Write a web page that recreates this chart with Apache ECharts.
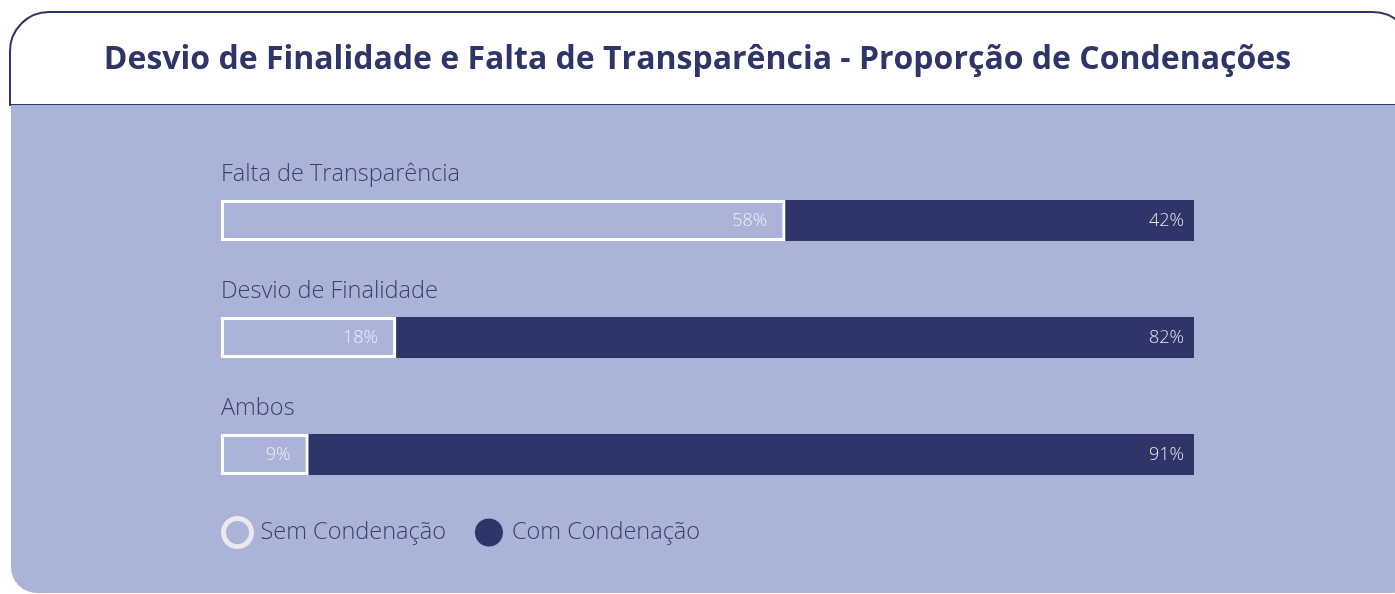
<!DOCTYPE html>
<html>
<head>
<meta charset="utf-8">
<script src="https://cdn.jsdelivr.net/npm/echarts@6/dist/echarts.min.js"></script>
<style>
  html, body { margin: 0; padding: 0; width: 1395px; height: 594px; overflow: hidden; background: #ffffff; }
  .head {
    position: absolute; left: 9px; top: 11px; width: 1400px; height: 91px;
    border: 2px solid #2f3568; border-radius: 40px 40px 0 0; background: #ffffff;
  }
  .panel {
    position: absolute; left: 11px; top: 105px; width: 1386px; height: 488px;
    background: #abb3d9; border-radius: 0 0 4px 26px;
  }
  #chart { position: absolute; left: 0; top: 0; width: 1395px; height: 594px; }
</style>
</head>
<body>
<div class="head"></div>
<div class="panel"></div>
<div id="chart"></div>
<script>
// Share of cases with and without a conviction, per type of irregularity
const categories = ['Falta de Transparência', 'Desvio de Finalidade', 'Ambos'];
const semCondenacao = [58, 18, 9];
const comCondenacao = [42, 82, 91];
const seriesNames = ['Sem Condenação', 'Com Condenação'];

const PANEL = '#abb3d9';
const NAVY = '#2f3568';
const FONT = '"Open Sans", "Noto Sans", sans-serif';

const chart = echarts.init(document.getElementById('chart'), null, { renderer: 'canvas' });

chart.setOption({
  backgroundColor: 'transparent',
  animation: false,
  title: {
    text: 'Desvio de Finalidade e Falta de Transparência - Proporção de Condenações',
    left: 'center',
    top: 39,
    textStyle: { fontFamily: FONT, fontSize: 32, fontWeight: 'bold', color: NAVY }
  },
  legend: {
    left: 221,
    top: 516,
    padding: 0,
    itemWidth: 28,
    itemHeight: 28,
    itemGap: 29,
    icon: 'circle',
    textStyle: { fontFamily: FONT, fontSize: 23.5, fontWeight: 300, color: '#3b4170', padding: [0, 0, 0, 4] },
    data: [
      { name: seriesNames[0], itemStyle: { color: PANEL, borderColor: '#e9e9ef', borderWidth: 5 } },
      { name: seriesNames[1], itemStyle: { color: NAVY, borderWidth: 0 } }
    ]
  },
  grid: { left: 221, right: 201, top: 162, bottom: 81, containLabel: false },
  xAxis: {
    type: 'value', min: 0, max: 100, show: false
  },
  yAxis: {
    type: 'category',
    data: categories,
    inverse: true,
    axisLine: { show: false },
    axisTick: { show: false },
    splitLine: { show: false },
    axisLabel: {
      inside: true,
      margin: 0,
      verticalAlign: 'bottom',
      padding: [0, 0, 34, 0],
      fontFamily: FONT,
      fontSize: 23.5,
      fontWeight: 300,
      color: '#3b4170'
    }
  },
  series: [
    {
      name: seriesNames[0],
      type: 'bar',
      stack: 'total',
      barWidth: 41,
      data: semCondenacao,
      itemStyle: { color: PANEL, borderColor: '#ffffff', borderWidth: 3 },
      label: {
        show: true, position: 'insideRight', distance: 18,
        formatter: '{c}%', fontFamily: FONT, fontSize: 18, fontWeight: 300, color: '#eceef7'
      }
    },
    {
      name: seriesNames[1],
      type: 'bar',
      stack: 'total',
      barWidth: 41,
      data: comCondenacao,
      itemStyle: { color: NAVY },
      label: {
        show: true, position: 'insideRight', distance: 10,
        formatter: '{c}%', fontFamily: FONT, fontSize: 18, fontWeight: 300, color: '#e4e6f2'
      }
    }
  ]
});
</script>
</body>
</html>
